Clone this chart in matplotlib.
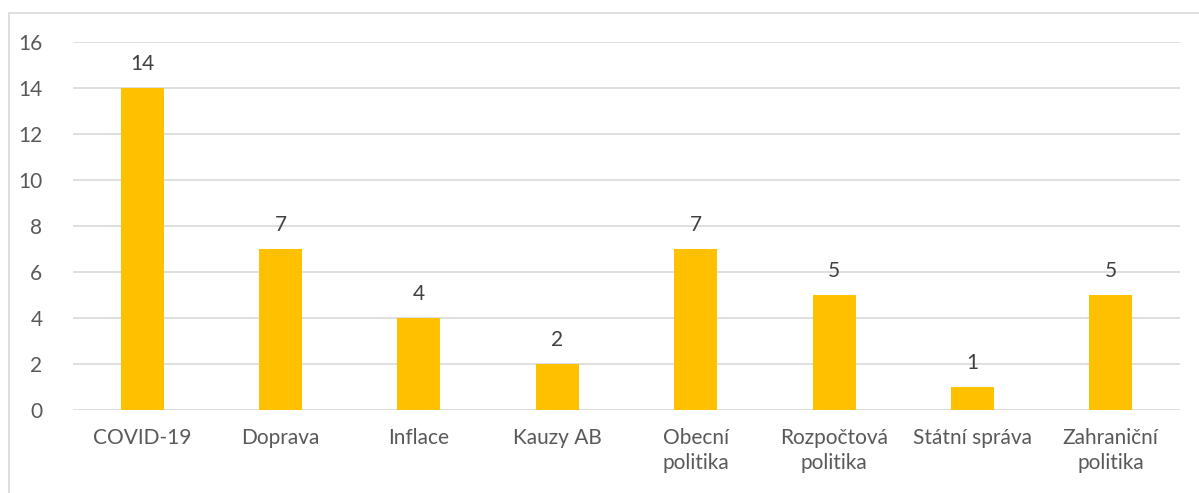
import matplotlib.pyplot as plt
from matplotlib.patches import Rectangle

plt.rcParams['font.family'] = ['Lato', 'DejaVu Sans']

categories = ['COVID-19', 'Doprava', 'Inflace', 'Kauzy AB', 'Obecní\npolitika',
              'Rozpočtová\npolitika', 'Státní správa', 'Zahraniční\npolitika']
values = [14, 7, 4, 2, 7, 5, 1, 5]

fig = plt.figure(figsize=(11.99, 4.93), dpi=100)
# light frame around the chart area
fig.patches.append(Rectangle((9 / 1199, -0.1), 1.2, (493 - 13) / 493 + 0.1,
                             transform=fig.transFigure, fill=False,
                             edgecolor='#d9d9d9', linewidth=1.2))
ax = fig.add_axes([73 / 1199, 83 / 493, 1107 / 1199, 368 / 493])

x = range(len(categories))
bars = ax.bar(x, values, width=0.31, color='#ffc000', zorder=3)
for xi, v in zip(x, values):
    ax.text(xi, v + 0.6, str(v), ha='center', va='bottom',
            fontsize=15, color='#404040')

ax.set_xlim(-0.5, len(categories) - 0.5)
ax.set_ylim(0, 16)
ax.set_yticks(range(0, 17, 2))
ax.set_xticks(list(x))
ax.set_xticklabels(categories, fontsize=15, color='#595959', linespacing=1.3)
ax.tick_params(axis='y', labelsize=15, labelcolor='#595959', length=0, pad=22)
ax.tick_params(axis='x', length=0, pad=13)
ax.grid(axis='y', color='#d9d9d9', linewidth=1.2, zorder=0)
for s in ax.spines.values():
    s.set_visible(False)

fig.savefig('out.png', dpi=100)
